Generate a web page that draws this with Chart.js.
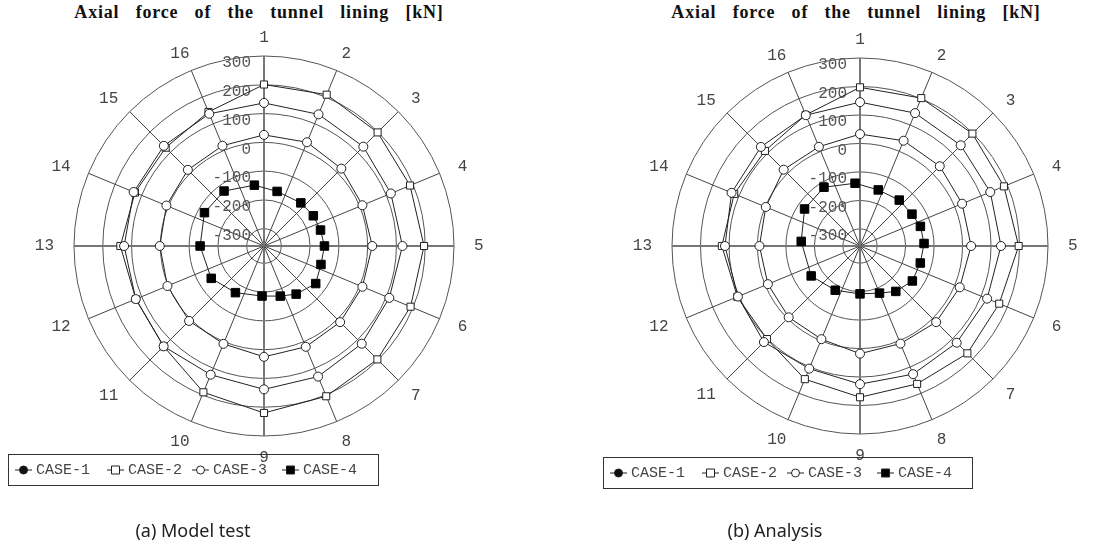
<!DOCTYPE html>
<html>
<head>
<meta charset="utf-8">
<script src="https://cdn.jsdelivr.net/npm/chart.js@4.4.1/dist/chart.umd.min.js"></script>
<style>
  html, body { margin:0; padding:0; background:#fff; }
  #page { position:relative; width:1117px; height:553px; overflow:hidden; }
  canvas { position:absolute; top:0; }
  .title { position:absolute; top:2px; font-family:"Liberation Serif", serif; font-weight:bold; font-size:18px; letter-spacing:0.8px; word-spacing:11px; color:#111; white-space:nowrap; transform:translateX(-50%); }
  .caption { position:absolute; top:518px; font-family:"Noto Sans", sans-serif; font-size:18px; color:#222; white-space:nowrap; transform:translateX(-50%); }
</style>
</head>
<body>
<div id="page">
  <div class="title" style="left:259px">Axial force of the tunnel lining [kN]</div>
  <div class="title" style="left:856px">Axial force of the tunnel lining [kN]</div>
  <canvas id="chartA" width="558" height="553" style="left:0"></canvas>
  <canvas id="chartB" width="559" height="553" style="left:558px"></canvas>
  <div class="caption" style="left:193px">(a) Model test</div>
  <div class="caption" style="left:775px">(b) Analysis</div>
</div>
<script>
// 16 measuring points round the lining, point 1 at the crown, clockwise
const spokes     = ['1','2','3','4','5','6','7','8','9','10','11','12','13','14','15','16'];
const tickValues = [300, 200, 100, 0, -100, -200, -300];
const caseNames  = ['CASE-1', 'CASE-2', 'CASE-3', 'CASE-4'];

// (a) Model test [kN]
const testCase1 = [137, 135, 128, 117, 121, 111, 120, 131, 138, 124, 133, 122, 126, 130, 132, 137];
const testCase2 = [201, 209, 198, 189, 196, 191, 197, 205, 220, 190, 133, 122, 139, 125, 123, 144];
const testCase3 = [26, 30, 20, 10, 16, 10, 14, 19, 25, 8, 8, 3, 2, 7, 14, 17];
// CASE-4 markers do not sit on the spokes: angle (deg, clockwise from point 1) and value
const testCase4Angle = [352, 14, 40, 59, 74, 91, 108, 127, 145.5, 162, 182.5, 211, 239, 269, 299, 324];
const testCase4      = [-146, -165, -163, -159, -156, -150, -152, -138, -159, -177, -186, -170, -145, -138, -123, -124];

// (b) Analysis [kN]
const anaCase1 = [145, 145, 140, 135, 135, 123, 120, 127, 125, 106, 117, 104, 114, 128, 132, 137];
const anaCase2 = [197, 202, 198, 187, 197, 169, 173, 164, 171, 146, 102, 106, 125, 118, 112, 138];
const anaCase3 = [33, 40, 36, 28, 30, 19, 18, 11, 18, -6, -6, -10, -7, -2, 19, 17];
const anaCase4Angle = [354.5, 17.5, 41.3, 58.4, 72.8, 87.9, 104.7, 122.8, 141, 157.7, 179.6, 208.3, 239.5, 274.5, 302.9, 328.2];
const anaCase4      = [-139, -153, -148, -146, -137, -135, -140, -139, -157, -181, -192, -182, -159, -153, -126, -118];

// finer angular grid so CASE-4 can be put between spokes
const PER   = 10;
const SLOTS = spokes.length * PER;

function fineLabels(){
    let a = [];
    for (let i=0;i<SLOTS;i++){ a.push(i % PER === 0 ? spokes[i / PER] : ''); }
    return a;
}
function onSpokes(values){
    let a = new Array(SLOTS).fill(null);
    values.forEach((v, i) => { a[i * PER] = v; });
    return a;
}
function byAngle(angles, values){
    let a = new Array(SLOTS).fill(null);
    let step = 360 / SLOTS;
    angles.forEach((ang, i) => {
        let k = Math.round(ang / step) % SLOTS;
        a[k] = values[i];
    });
    return a;
}

function makeDatasets(c1, c2, c3, c4ang, c4){
    let line = { borderColor:'#222', borderWidth:1, fill:false, spanGaps:true, tension:0,
                 pointBorderColor:'#222', pointBorderWidth:1, pointHoverRadius:0 };
    return [
        Object.assign({}, line, { label:caseNames[0], data:onSpokes(c1), pointStyle:'circle', pointRadius:4.5, pointBackgroundColor:'#fff', legendFill:'#111' }),
        Object.assign({}, line, { label:caseNames[1], data:onSpokes(c2), pointStyle:'rect',   pointRadius:5,   pointBackgroundColor:'#fff', legendFill:'#fff' }),
        Object.assign({}, line, { label:caseNames[2], data:onSpokes(c3), pointStyle:'circle', pointRadius:4.5, pointBackgroundColor:'#fff', legendFill:'#fff' }),
        Object.assign({}, line, { label:caseNames[3], data:byAngle(c4ang, c4), pointStyle:'rect', pointRadius:6, pointBackgroundColor:'#000', pointBorderColor:'#000', legendFill:'#000' }),
    ];
}

// tick labels, spoke numbers and the boxed legend
const overlay = {
    id: 'overlay',
    beforeDatasetsDraw(chart){
        let ctx = chart.ctx;
        let r   = chart.scales.r;
        ctx.save();
        ctx.font = '16px "Liberation Mono", monospace';
        ctx.fillStyle = '#555';
        ctx.textAlign = 'right';
        ctx.textBaseline = 'middle';
        r.ticks.forEach(t => {
            let d = r.getDistanceFromCenterForValue(t.value);
            ctx.fillText(t.label, r.xCenter - 13, r.yCenter - d + 7);
        });
        ctx.restore();
    },
    afterDraw(chart, args, opts){
        let ctx = chart.ctx;
        let r   = chart.scales.r;
        ctx.save();
        ctx.font = '16px "Liberation Mono", monospace';
        ctx.fillStyle = '#444';
        ctx.textAlign = 'center';
        ctx.textBaseline = 'middle';
        let anchor = r.drawingArea + 10;
        chart.data.labels.forEach((lab, i) => {
            if (!lab) return;
            let p  = r.getPointPosition(i, anchor);
            let ux = (p.x - r.xCenter) / anchor;
            let uy = (p.y - r.yCenter) / anchor;
            let w  = ctx.measureText(lab).width;
            let x  = p.x + ux * (w / 2 + 10);
            let y  = p.y + uy * 8 + (uy > 0 ? uy * 4 : 0);
            ctx.fillText(lab, x, y);
        });

        // legend
        let b = opts.box;
        ctx.font = '15px "Liberation Mono", monospace';
        ctx.strokeStyle = '#333';
        ctx.lineWidth = 1;
        ctx.strokeRect(b[0] + 0.5, b[1] + 0.5, b[2], b[3]);
        let cy = b[1] + b[3] / 2 + 0.5;
        ctx.textAlign = 'left';
        chart.data.datasets.forEach((ds, i) => {
            let x = b[0] + opts.starts[i];
            ctx.strokeStyle = '#222';
            ctx.beginPath(); ctx.moveTo(x, cy); ctx.lineTo(x + 17, cy); ctx.stroke();
            ctx.fillStyle = ds.legendFill;
            ctx.beginPath();
            if (ds.pointStyle === 'circle'){ ctx.arc(x + 8.5, cy, 4, 0, Math.PI * 2); }
            else { ctx.rect(x + 4.5, cy - 4, 8, 8); }
            ctx.fill(); ctx.stroke();
            ctx.fillStyle = '#444';
            ctx.fillText(ds.label, x + 21, cy);
        });
        ctx.restore();
    }
};

function makeChart(id, datasets, pad, box){
    return new Chart(document.getElementById(id), {
        type: 'radar',
        data: { labels: fineLabels(), datasets: datasets },
        options: {
            responsive: false,
            animation: false,
            events: [],
            layout: { padding: pad },
            plugins: { legend:{ display:false }, tooltip:{ enabled:false }, overlay:{ box: box, starts:[7, 99, 184, 274] } },
            scales: {
                r: {
                    min: -360, max: 300,
                    afterBuildTicks: s => { s.ticks = tickValues.map(v => ({ value: v })); },
                    ticks: { display:false },
                    pointLabels: { display:false },
                    grid: { circular:true, color:'#555', lineWidth:1 },
                    angleLines: {
                        color: c => (c.index % (PER * 4) === 0) ? '#777' : '#444',
                        lineWidth: c => (c.index % PER !== 0) ? 0 : ((c.index % (PER * 4) === 0) ? 2 : 1)
                    }
                }
            }
        },
        plugins: [overlay]
    });
}

makeChart('chartA', makeDatasets(testCase1, testCase2, testCase3, testCase4Angle, testCase4),
          { left:74, right:104, top:56, bottom:117 }, [8, 454, 370, 31]);
makeChart('chartB', makeDatasets(anaCase1, anaCase2, anaCase3, anaCase4Angle, anaCase4),
          { left:113, right:68, top:58, bottom:118 }, [45, 457, 369, 31]);
</script>
</body>
</html>
